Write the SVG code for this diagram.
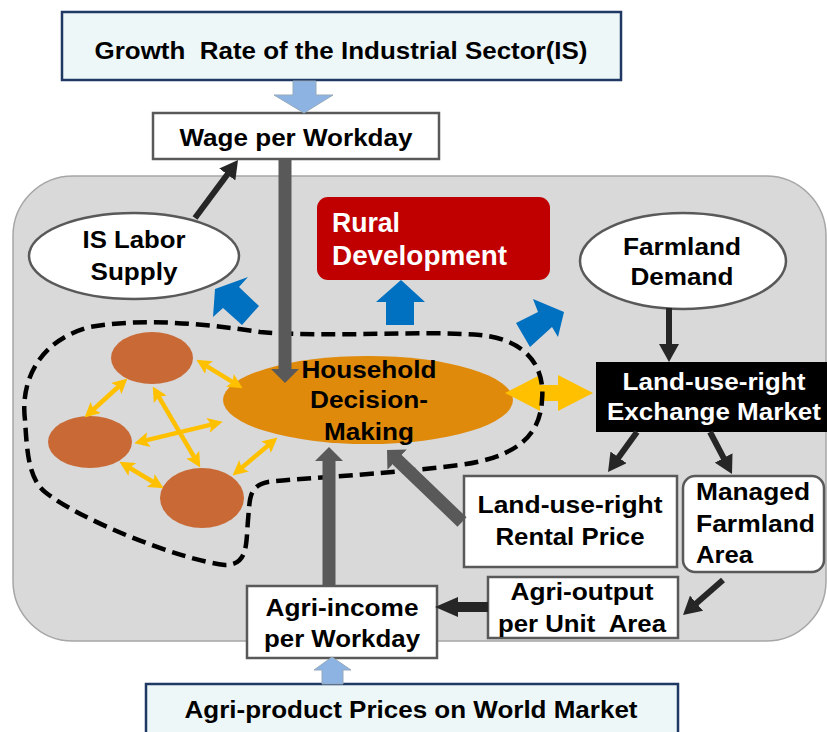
<svg xmlns="http://www.w3.org/2000/svg" width="827" height="732" viewBox="0 0 827 732">
<style>
text{font-family:"Liberation Sans",Arial,sans-serif;font-weight:bold;font-size:23px;fill:#000;}
.c{text-anchor:middle;}
.w{fill:#fff;}
.pre{white-space:pre;}
.box{fill:#fff;stroke:#595959;stroke-width:2.5;}
.ibox{fill:#EEF7F8;stroke:#1F3864;stroke-width:2.5;}
.oval{fill:#fff;stroke:#595959;stroke-width:2.5;}
.hh{fill:#C96A36;}
.blk{stroke:#262626;stroke-width:6;fill:none;marker-end:url(#hb);}
.gry{stroke:#595959;stroke-width:13;fill:none;marker-end:url(#hg);}
.yel{stroke:#FFC000;stroke-width:4.5;fill:none;marker-start:url(#hy);marker-end:url(#hy);}
.blue{fill:#0070C0;}
.lb{fill:#8DB3E2;stroke:#95A9BC;stroke-width:1;}
</style>
<defs>
<marker id="hb" markerUnits="userSpaceOnUse" viewBox="0 0 18 20" markerWidth="18" markerHeight="20" refX="1" refY="10" orient="auto"><path d="M0,0 L18,10 L0,20 z" fill="#262626"/></marker>
<marker id="hg" markerUnits="userSpaceOnUse" viewBox="0 0 14 28" markerWidth="14" markerHeight="28" refX="1" refY="14" orient="auto"><path d="M0,0 L14,14 L0,28 z" fill="#595959"/></marker>
<marker id="hy" markerUnits="userSpaceOnUse" viewBox="0 0 14 14" markerWidth="15" markerHeight="15" refX="5" refY="7" orient="auto-start-reverse"><path d="M0,0 L14,7 L0,14 L3,7 z" fill="#FFC000"/></marker>
</defs>

<g id="panel"><rect x="13" y="176" width="813" height="465" rx="60" fill="#D9D9D9" stroke="#A6A6A6" stroke-width="1.5"/></g>

<g id="growth-rate"><rect class="ibox" x="62" y="12" width="559" height="68"/><text class="c pre" x="341" y="59" style="font-size:24px" textLength="493" lengthAdjust="spacingAndGlyphs">Growth  Rate of the Industrial Sector(IS)</text></g>
<g id="wage"><rect class="box" x="153" y="113" width="286" height="46"/><text class="c" x="296" y="146" style="font-size:24px" textLength="233" lengthAdjust="spacingAndGlyphs">Wage per Workday</text></g>
<g id="is-labor"><ellipse class="oval" cx="134" cy="256" rx="105" ry="43"/><text class="c" x="134" y="248" textLength="103" lengthAdjust="spacingAndGlyphs">IS Labor</text><text class="c" x="134" y="280" textLength="87" lengthAdjust="spacingAndGlyphs">Supply</text></g>
<g id="rural"><rect x="317" y="197" width="233" height="83" rx="11" fill="#C00000"/><text class="w" x="332" y="232" style="font-size:27px" textLength="68" lengthAdjust="spacingAndGlyphs">Rural</text><text class="w" x="332" y="265" style="font-size:27px" textLength="175" lengthAdjust="spacingAndGlyphs">Development</text></g>
<g id="farmland-demand"><ellipse class="oval" cx="683" cy="261" rx="103" ry="48"/><text class="c" x="682" y="255" textLength="118" lengthAdjust="spacingAndGlyphs">Farmland</text><text class="c" x="682" y="285" textLength="103" lengthAdjust="spacingAndGlyphs">Demand</text></g>

<g id="household-ellipse"><ellipse cx="368" cy="400" rx="145" ry="44" fill="#E08A0B"/></g>
<g id="exchange-link"><polygon fill="#FFC000" points="505,393 540,375 540,385 558,385 558,375 593,393 558,411 558,401 540,401 540,411"/></g>

<g id="boundary"><path d="M25,420 C20,380 40,340 90,327 C140,318 200,323 260,332 C330,338 420,330 480,335 C530,340 545,370 542,400 C540,440 510,458 460,465 C380,475 300,478 268,482 C248,486 250,500 248,520 C246,545 248,565 225,565 C180,560 80,520 45,492 C28,478 27,450 25,420 Z" fill="none" stroke="#000" stroke-width="4.5" stroke-dasharray="14,7"/></g>

<g id="hh-a"><ellipse class="hh" cx="152" cy="358" rx="41" ry="26"/></g>
<g id="hh-b"><ellipse class="hh" cx="90" cy="442" rx="42" ry="26"/></g>
<g id="hh-c"><ellipse class="hh" cx="202" cy="498" rx="42" ry="30"/></g>

<g id="exchange"><rect x="596" y="362" width="232" height="70" fill="#000"/><text class="c w" x="714" y="390" textLength="183" lengthAdjust="spacingAndGlyphs">Land-use-right</text><text class="c w" x="714" y="420" textLength="214" lengthAdjust="spacingAndGlyphs">Exchange Market</text></g>
<g id="rental"><rect class="box" x="464" y="476" width="213" height="91"/><text class="c" x="570" y="513" textLength="185" lengthAdjust="spacingAndGlyphs">Land-use-right</text><text class="c" x="570" y="545" textLength="149" lengthAdjust="spacingAndGlyphs">Rental Price</text></g>
<g id="managed"><rect class="box" x="683" y="476" width="141" height="96" rx="12"/><text x="696" y="500" textLength="114" lengthAdjust="spacingAndGlyphs">Managed</text><text x="696" y="532" textLength="119" lengthAdjust="spacingAndGlyphs">Farmland</text><text x="696" y="563" textLength="57" lengthAdjust="spacingAndGlyphs">Area</text></g>
<g id="agri-output"><rect class="box" x="488" y="577" width="190" height="61"/><text class="c" x="582" y="600" textLength="143" lengthAdjust="spacingAndGlyphs">Agri-output</text><text class="c pre" x="582" y="632" textLength="168" lengthAdjust="spacingAndGlyphs">per Unit  Area</text></g>
<g id="agri-income"><rect class="box" x="247" y="586" width="190" height="72"/><text class="c" x="342" y="616" textLength="153" lengthAdjust="spacingAndGlyphs">Agri-income</text><text class="c" x="342" y="647" textLength="156" lengthAdjust="spacingAndGlyphs">per Workday</text></g>
<g id="world-prices"><rect class="ibox" x="146" y="684" width="532" height="60"/><text class="c" x="411" y="718" textLength="453" lengthAdjust="spacingAndGlyphs">Agri-product Prices on World Market</text></g>

<g id="connectors">
<polygon class="lb" points="293,81 316,81 316,95 333,95 304,113 274,95 293,95"/>
<polygon class="lb" points="332,657 351,670 343,670 343,684 322,684 322,670 314,670"/>
<line class="blk" x1="195" y1="218" x2="227.9" y2="173.7"/>
<line class="blk" x1="669" y1="308" x2="669" y2="345"/>
<line class="blk" x1="637" y1="432" x2="618" y2="458.2"/>
<line class="blk" x1="710" y1="432" x2="724.1" y2="458.9"/>
<line class="blk" x1="723" y1="580" x2="695.8" y2="603.8"/>
<polygon fill="#262626" points="488,602 458,602 458,597 435,607 458,617 458,612 488,612"/>
<line class="gry" x1="285" y1="159" x2="285" y2="370"/>
<line class="gry" x1="329" y1="586" x2="329" y2="460"/>
<line class="gry" x1="462" y1="522" x2="396.4" y2="459"/>
<line class="yel" x1="204.6" y1="364.8" x2="234.4" y2="383.2"/>
<line class="yel" x1="120.3" y1="385" x2="91.7" y2="411"/>
<line class="yel" x1="157.6" y1="394.8" x2="195.4" y2="459.2"/>
<line class="yel" x1="143.7" y1="440.9" x2="213.3" y2="424.1"/>
<line class="yel" x1="239.9" y1="469.2" x2="270.1" y2="443.8"/>
<line class="yel" x1="127.7" y1="466.7" x2="155.3" y2="483.3"/>
<polygon class="blue" points="215,289 248,277 239,287 259,306 242,325 223,308 213,317"/>
<polygon class="blue" points="401,280 425,302 414,302 414,325 386,325 386,302 376,302"/>
<polygon class="blue" points="533,299 564,312 558,337 552,327 530,347 516,323 538,312"/>
</g>

<g id="household-label"><text class="c" x="369" y="378" textLength="135" lengthAdjust="spacingAndGlyphs">Household</text><text class="c" x="369" y="408" textLength="118" lengthAdjust="spacingAndGlyphs">Decision-</text><text class="c" x="369" y="440" textLength="90" lengthAdjust="spacingAndGlyphs">Making</text></g>
</svg>
